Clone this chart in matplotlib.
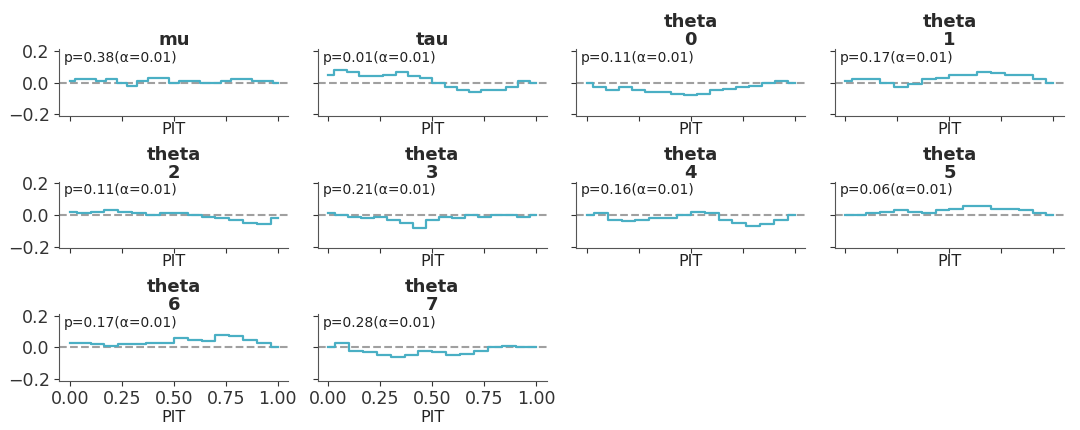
import numpy as np
from matplotlib import pyplot as plt

titles = ["mu", "tau", "theta\n0", "theta\n1", "theta\n2", "theta\n3",
          "theta\n4", "theta\n5", "theta\n6", "theta\n7"]
pvals = ["0.38", "0.01", "0.11", "0.17", "0.11", "0.21", "0.16", "0.06", "0.17", "0.28"]

mu = [0.01, 0.02, 0.02, 0.01, 0.02, 0.0, -0.02, 0.01, 0.03, 0.03, 0.0, 0.01, 0.01, 0.0, 0.0, 0.01, 0.02, 0.02, 0.01, 0.01, 0.0]
tau = [0.05, 0.08, 0.07, 0.04, 0.04, 0.05, 0.07, 0.04, 0.03, 0.0, -0.03, -0.05, -0.06, -0.05, -0.05, -0.03, 0.01, 0.0]
theta0 = [0.0, -0.03, -0.05, -0.03, -0.05, -0.06, -0.06, -0.07, -0.08, -0.07, -0.05, -0.04, -0.03, -0.02, 0.0, 0.01, 0.0]
theta1 = [0.01, 0.02, 0.02, 0.0, -0.03, -0.01, 0.02, 0.03, 0.05, 0.05, 0.07, 0.06, 0.05, 0.05, 0.02, 0.0]
theta2 = [0.02, 0.01, 0.02, 0.03, 0.02, 0.01, 0.0, 0.01, 0.01, 0.0, -0.01, -0.02, -0.03, -0.05, -0.06, -0.02]
theta3 = [0.01, 0.0, -0.01, -0.02, -0.01, -0.03, -0.05, -0.08, -0.03, -0.01, -0.02, 0.0, -0.01, 0.0, 0.0, -0.01, 0.0]
theta4 = [0.0, 0.01, -0.03, -0.04, -0.03, -0.02, -0.02, 0.0, 0.02, 0.01, -0.03, -0.05, -0.07, -0.06, -0.03, 0.0]
theta5 = [0.0, 0.0, 0.01, 0.02, 0.03, 0.02, 0.01, 0.03, 0.04, 0.06, 0.06, 0.04, 0.04, 0.03, 0.01, 0.0]
theta6 = [0.03, 0.03, 0.02, 0.01, 0.02, 0.02, 0.03, 0.03, 0.06, 0.05, 0.04, 0.08, 0.07, 0.05, 0.03, 0.0]
theta7 = [0.0, 0.03, -0.02, -0.03, -0.05, -0.06, -0.05, -0.02, -0.03, -0.05, -0.04, -0.02, 0.0, 0.01, 0.0, 0.0]
series = [mu, tau, theta0, theta1, theta2, theta3, theta4, theta5, theta6, theta7]

fig, axes = plt.subplots(3, 4, figsize=(10.8, 4.3), dpi=100, sharex=True, sharey=True)
fig.subplots_adjust(left=0.055, right=0.985, top=0.885, bottom=0.115, wspace=0.13, hspace=1.0)

for i, ax in enumerate(axes.flat):
    if i >= len(series):
        ax.set_visible(False)
        continue
    y = np.array(series[i])
    x = np.linspace(0, 1, len(y))
    ax.axhline(0, color="#a0a0a0", ls="--", lw=1.5)
    ax.step(x, y, where="mid", color="#4aafc4", lw=1.6)
    ax.set_title(titles[i], fontsize=13, fontweight="bold", linespacing=1.0,
                 pad=3, color="#2a2a2a")
    ax.text(0.02, 0.98, "p=" + pvals[i] + "(α=0.01)", transform=ax.transAxes,
            fontsize=10, va="top", color="#222222")
    ax.set_xlabel("PIT", fontsize=11.5, labelpad=1, color="#222222")
    for s in ["top", "right"]:
        ax.spines[s].set_visible(False)
    ax.spines["left"].set_color("#555555")
    ax.spines["bottom"].set_color("#555555")
    ax.tick_params(labelsize=12.5, colors="#333333")
    ax.set_ylim(-0.21, 0.21)
    ax.set_yticks([-0.2, 0.0, 0.2])
    ax.set_xticks([0, 0.25, 0.5, 0.75, 1.0])
    ax.set_xlim(-0.05, 1.05)
    ax.tick_params(axis="x", labelbottom=i >= 8)

plt.savefig("out.png")
